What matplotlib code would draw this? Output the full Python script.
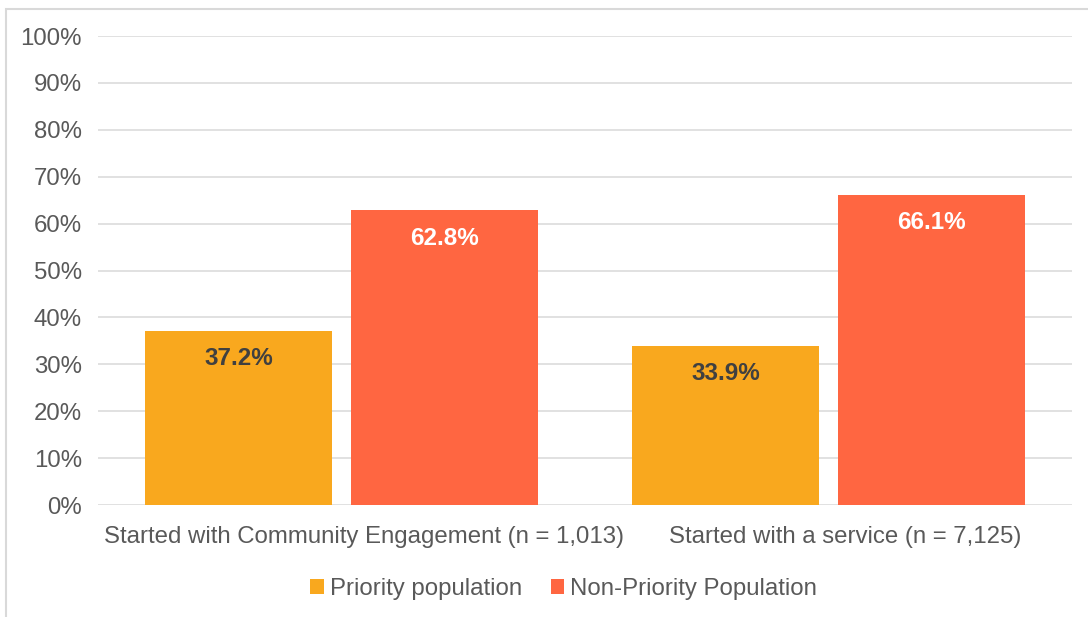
import matplotlib
matplotlib.use("Agg")
import matplotlib.pyplot as plt
import matplotlib.transforms as mtransforms
import numpy as np
from matplotlib.patches import Rectangle

categories = ["Started with Community Engagement (n = 1,013)", "Started with a service (n = 7,125)"]
series_names = ["Priority population", "Non-Priority Population"]
priority = [37.2, 33.9]
non_priority = [62.8, 66.1]
yticks = [0, 10, 20, 30, 40, 50, 60, 70, 80, 90, 100]

colors = ["#F9A81E", "#FF6641"]

plt.rcParams['font.family'] = ['Liberation Sans', 'DejaVu Sans']
FS = 17.3

fig = plt.figure(figsize=(10.88, 6.17), dpi=100)
fig.patches.append(Rectangle((6/1088, -0.1), 1.2, 1 - 9/617 + 0.1, transform=fig.transFigure,
                             fill=False, edgecolor="#D9D9D9", linewidth=1.5))
ax = fig.add_axes([98/1088, 1 - 505/617, (1072 - 98)/1088, (505 - 36)/617])

x = np.arange(len(categories))
w = 0.382
off = 0.2115
vals = [priority, non_priority]
for i, (name, v) in enumerate(zip(series_names, vals)):
    pos = x + (-off if i == 0 else off)
    ax.bar(pos, v, width=w, color=colors[i], label=name, zorder=3)
    for px, pv in zip(pos, v):
        ax.annotate(f"{pv:.1f}%", (px, pv), xytext=(0, -20), textcoords="offset points",
                    ha="center", va="center", fontsize=17.5, fontweight="bold",
                    color="#404040" if i == 0 else "#FFFFFF", zorder=4)

ax.set_xlim(-0.5, 1.5)
ax.set_ylim(0, 100)
ax.set_yticks(yticks)
ax.set_yticklabels([f"{t}%" for t in yticks])
ax.set_xticks(x)
ax.set_xticklabels(categories)
ax.tick_params(axis="both", length=0, labelsize=FS, colors="#595959")
ax.tick_params(axis="y", pad=11.5)
ax.tick_params(axis="x", pad=15)
ax.yaxis.grid(True, color="#D9D9D9", linewidth=1.1, zorder=0)
ax.set_axisbelow(True)
for s in ax.spines.values():
    s.set_visible(False)

# fine placement of category labels to match reference rendering
xl = ax.get_xticklabels()
for lab, dx in zip(xl, [22, 17]):
    lab.set_transform(lab.get_transform() + mtransforms.ScaledTranslation(dx / 100, 0, fig.dpi_scale_trans))

leg = fig.legend(loc="center", bbox_to_anchor=(0.518, 1 - 589/617), ncol=2, frameon=False,
                 fontsize=FS, handlelength=0.55, handleheight=0.55, handletextpad=0.25,
                 columnspacing=1.2, labelcolor="#595959")

fig.savefig("out.png", dpi=100)
